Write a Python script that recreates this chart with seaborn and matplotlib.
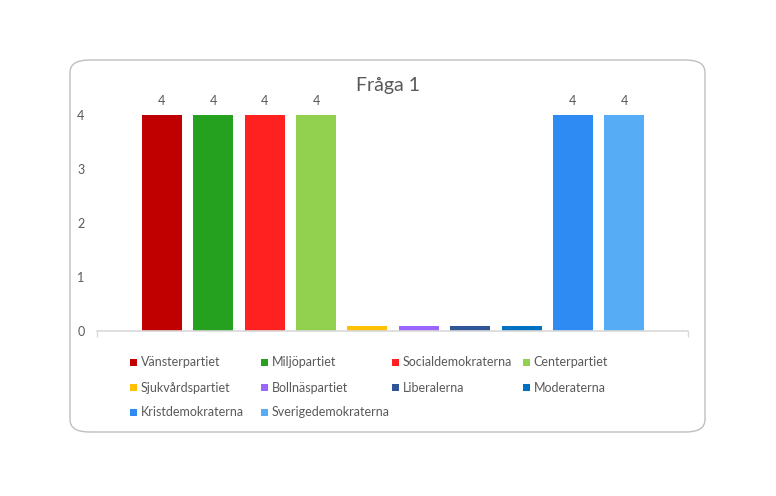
import matplotlib
matplotlib.use('Agg')
import matplotlib.pyplot as plt
from matplotlib.patches import FancyBboxPatch, Rectangle
import seaborn as sns
import pandas as pd

# Chart data
parties = ['Vänsterpartiet', 'Miljöpartiet', 'Socialdemokraterna', 'Centerpartiet',
           'Sjukvårdspartiet', 'Bollnäspartiet', 'Liberalerna', 'Moderaterna',
           'Kristdemokraterna', 'Sverigedemokraterna']
values = [4, 4, 4, 4, 0.1, 0.1, 0.1, 0.1, 4, 4]
colors = ['#C00000', '#25A11F', '#FF2020', '#92D050',
          '#FFC000', '#9966FF', '#2F5597', '#0070C0',
          '#2E8BF3', '#56ADF5']
title = 'Fråga 1'

sns.set_theme(style='white')
plt.rcParams['font.family'] = ['Lato', 'DejaVu Sans']
text_color = '#595959'

W, H = 776, 496
fig = plt.figure(figsize=(W / 100, H / 100), dpi=100)

# rounded chart frame
frame = FancyBboxPatch((70 / W, (H - 432) / H), 635 / W, 372 / H,
                       boxstyle='round,pad=0,rounding_size=0.025',
                       transform=fig.transFigure, fill=False,
                       edgecolor='#BFBFBF', linewidth=1.0)
fig.patches.append(frame)

ax = fig.add_axes([97 / W, (H - 331) / H, 591 / W, 216 / H])
df = pd.DataFrame({'party': parties, 'value': values})
sns.barplot(data=df, x='party', y='value', hue='party', palette=dict(zip(parties, colors)),
            width=0.78, legend=False, ax=ax, saturation=1, linewidth=0)

ax.set_xlim(-1.265, 10.24)
ax.set_ylim(0, 4)
ax.set_yticks([0, 1, 2, 3, 4])
ax.set_xticks([-1.265, 10.24])
ax.set_xticklabels(['', ''])
ax.set_xlabel('')
ax.set_ylabel('')
ax.tick_params(axis='y', length=0, pad=9, labelsize=9, labelcolor=text_color)
ax.tick_params(axis='x', length=4, color='#D9D9D9', width=1, direction='out', bottom=True)
for s in ['top', 'right', 'left']:
    ax.spines[s].set_visible(False)
ax.spines['bottom'].set_color('#D9D9D9')
ax.spines['bottom'].set_linewidth(1.2)

for i, v in enumerate(values):
    if v >= 1:
        ax.annotate(f'{v:g}', (i, v), xytext=(0, 10), textcoords='offset points',
                    ha='center', va='center', fontsize=9, color=text_color,
                    annotation_clip=False)

fig.text(388 / W, 1 - 85 / H, title, ha='center', va='center', fontsize=14, color=text_color)

# legend, row-major with fixed column widths
col_x = [133.5, 264.5, 395.5, 526.5]
row_y = [362.5, 387.5, 412.5]
for k, (name, c) in enumerate(zip(parties, colors)):
    cx = col_x[k % 4]
    cy = row_y[k // 4]
    fig.patches.append(Rectangle(((cx - 3.5) / W, 1 - (cy + 3.5) / H), 7 / W, 7 / H,
                                 transform=fig.transFigure, facecolor=c, edgecolor='none'))
    fig.text((cx + 7) / W, 1 - cy / H, name, ha='left', va='center', fontsize=9, color=text_color)

fig.savefig('out.png', dpi=100)
